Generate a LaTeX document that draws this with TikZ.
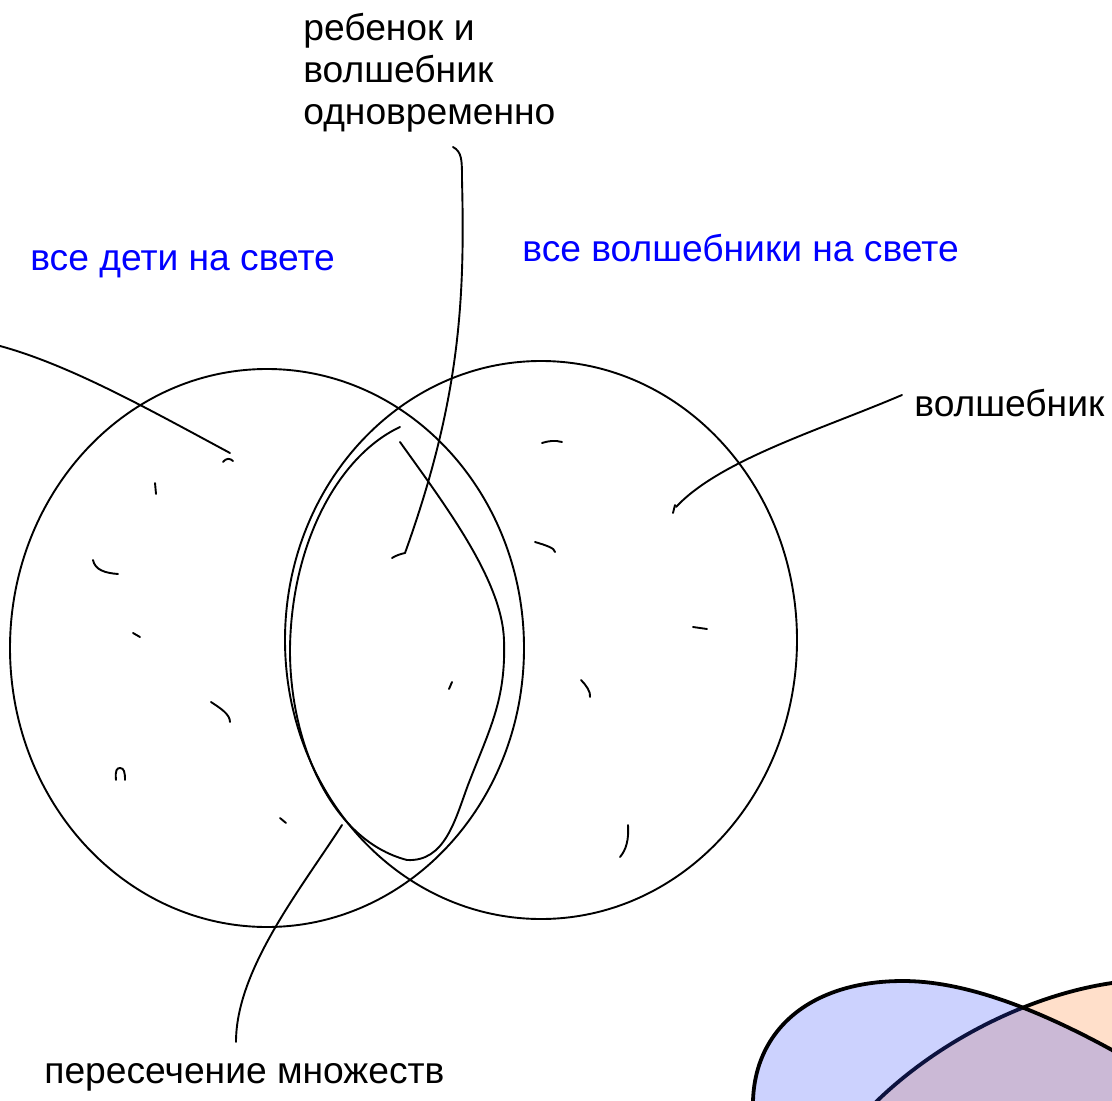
\documentclass[tikz,border=0pt]{standalone}
\usepackage{fontspec}
\setmainfont{Liberation Sans}
\definecolor{sinij}{RGB}{51,75,250}
\definecolor{persik}{RGB}{255,223,202}
\tikzset{
  lin/.style={line width=0.95pt, line cap=round},
  txt/.style={inner sep=0pt, anchor=base west, font=\fontsize{18.6}{21}\selectfont},
  krug/.style={line width=1.9pt, draw=black},
}
\begin{document}
\begin{tikzpicture}[x=0.5pt, y=-0.5pt]
\useasboundingbox (0,0) rectangle (1112,1101);

\node [txt] (oba1) at (303,41) {ребенок и};
\node [txt] (oba2) at (303,83) {волшебник};
\node [txt] (oba3) at (303,125) {одновременно};
\node [txt, blue] (deti) at (30,271) {все дети на свете};
\node [txt, blue] (vsevolsh) at (522,262) {все волшебники на свете};
\node [txt] (volsh) at (914,416) {волшебник};
\node [txt] (peres) at (44,1083) {пересечение множеств};

\draw [lin] (267,648) ellipse [x radius=257, y radius=279];
\draw [lin] (541,640) ellipse [x radius=256, y radius=279];

% peresechenie
\draw [lin] (400,427) .. controls (340,455) and (292,540) .. (290,647)
   .. controls (289,740) and (330,840) .. (407,860)
   .. controls (445,862) and (455,820) .. (468,785)
   .. controls (490,728) and (506,700) .. (504,640)
   .. controls (502,580) and (445,505) .. (400,442);

% strelki k podpisyam
\coordinate (detiA) at (0,346);
\coordinate (detiB) at (230,453);
\coordinate (obaA) at (453,147);
\coordinate (obaB) at (405,553);
\coordinate (volshA) at (902,395);
\coordinate (volshB) at (676,507);
\coordinate (peresA) at (236,1042);
\coordinate (peresB) at (342,825);

\draw [lin] (detiA) .. controls (70,365) and (150,410) .. (detiB);
\draw [lin] (obaA) .. controls (462,152) and (462,160) .. (462,180)
   .. controls (465,300) and (460,400) .. (obaB);
\draw [lin] (obaB) .. controls (400,554) and (395,556) .. (392,558);
\draw [lin] (volshA) .. controls (820,430) and (720,460) .. (volshB);
\draw [lin] (peresA) .. controls (236,970) and (300,890) .. (peresB);

%  chertochki:
\draw [lin] (223,462) .. controls (226,458) and (230,458) .. (233,461);
\draw [lin] (155,483)--(156,494);
\draw [lin] (93,560) .. controls (95,570) and (105,573) .. (118,574);
\draw [lin] (133,633)--(140,637);
\draw [lin] (211,702) .. controls (220,708) and (230,714) .. (230,722);
\draw [lin] (116,780) .. controls (115,770) and (117,768) .. (120,768) .. controls (124,768) and (125,772) .. (125,780);
\draw [lin] (280,818)--(286,823);
\draw [lin] (542,443) .. controls (548,441) and (555,440) .. (562,442);
\draw [lin] (535,542) .. controls (545,545) and (555,548) .. (555,552);
\draw [lin] (693,627)--(707,629);
\draw [lin] (581,680) .. controls (586,685) and (591,692) .. (590,697);
\draw [lin] (628,825) .. controls (629,840) and (626,850) .. (620,857);
\draw [lin] (673,513)--(675,505);
\draw [lin] (449,689)--(452,682);

% tsvetnye
\begin{scope}
\clip (0,0) rectangle (1112,1101);
\filldraw [krug, fill=persik] (865,1115) -- (877,1101) .. controls (940,1040) and (1030,995) .. (1112,983)
   -- (1140,982) -- (1140,1130) -- (860,1130) -- cycle;
\filldraw [krug, fill=sinij, fill opacity=0.25] (752,1130) -- (753,1101) .. controls (755,1030) and (810,981) .. (903,981)
   .. controls (960,981) and (1030,1005) .. (1112,1050) -- (1150,1075) -- (1150,1130) -- cycle;
\end{scope}

\end{tikzpicture}
\end{document}
